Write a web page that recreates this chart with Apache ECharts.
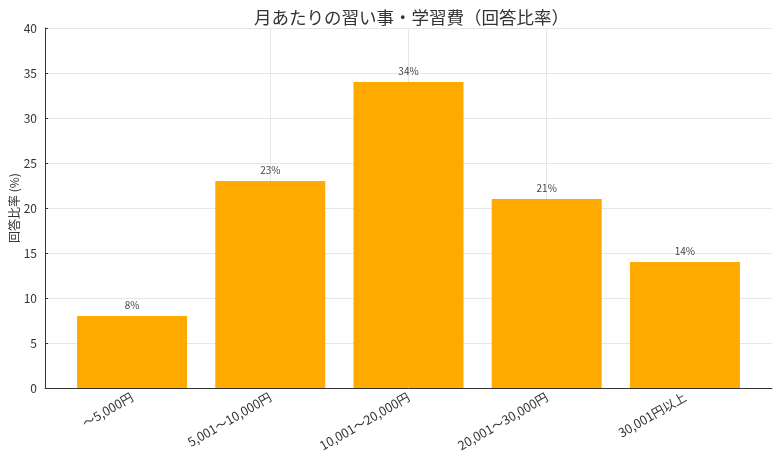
<!DOCTYPE html>
<html>
<head>
<meta charset="utf-8">
<script src="https://cdn.jsdelivr.net/npm/echarts@6/dist/echarts.min.js"></script>
<style>
html, body { margin: 0; padding: 0; background: #fff; }
#chart { width: 780px; height: 465px; }
</style>
</head>
<body>
<div id="chart"></div>
<script>
var categories = ['〜5,000円', '5,001〜10,000円', '10,001〜20,000円', '20,001〜30,000円', '30,001円以上'];
var ratios = [8, 23, 34, 21, 14];
var yTicks = [0, 5, 10, 15, 20, 25, 30, 35, 40];

var font = '"Noto Sans CJK JP", "Noto Sans", sans-serif';
var myChart = echarts.init(document.getElementById('chart'));

// bars sit on a value x axis so the side padding matches the original (-0.63 .. 4.63)
var barData = ratios.map(function (v, i) { return [i, v]; });

var option = {
    animation: false,
    textStyle: { fontFamily: font },
    title: {
        text: '月あたりの習い事・学習費（回答比率）',
        left: 249,
        top: 4,
        textStyle: { fontSize: 17.5, fontWeight: 'normal', color: '#333', fontFamily: font }
    },
    grid: { left: 45, right: 8, top: 28, bottom: 77, containLabel: false, outerBoundsMode: 'none' },
    xAxis: {
        type: 'value',
        min: -0.63,
        max: 4.63,
        axisLine: { show: true, onZero: false, lineStyle: { color: '#333', width: 1 } },
        axisTick: { show: true, inside: true, length: 4, customValues: [0, 1, 2, 3, 4], lineStyle: { color: '#333' } },
        axisLabel: {
            customValues: [0, 1, 2, 3, 4],
            rotate: 30,
            margin: 8,
            fontSize: 12.5,
            color: '#333',
            formatter: function (v) { return categories[Math.round(v)] || ''; }
        },
        splitLine: { show: true, showMinLine: false, showMaxLine: false, lineStyle: { color: '#e6e6e6' } }
    },
    yAxis: {
        type: 'value',
        min: yTicks[0],
        max: yTicks[yTicks.length - 1],
        interval: 5,
        name: '回答比率 (%)',
        nameLocation: 'middle',
        nameGap: 25,
        nameMoveOverlap: false,
        nameTextStyle: { fontSize: 12, color: '#333' },
        axisLine: { show: true, onZero: false, lineStyle: { color: '#333', width: 1 } },
        axisTick: { show: true, inside: true, length: 3, lineStyle: { color: '#333' } },
        axisLabel: { fontSize: 12, color: '#333', margin: 8 },
        splitLine: { show: true, showMinLine: false, lineStyle: { color: '#e6e6e6' } }
    },
    series: [{
        type: 'bar',
        data: barData,
        barWidth: 110,
        itemStyle: { color: '#FFAA00' },
        label: {
            show: true,
            position: 'top',
            distance: 6,
            fontSize: 10,
            color: '#444',
            formatter: function (p) { return p.value[1] + '%'; }
        }
    }]
};
myChart.setOption(option);
</script>
</body>
</html>
